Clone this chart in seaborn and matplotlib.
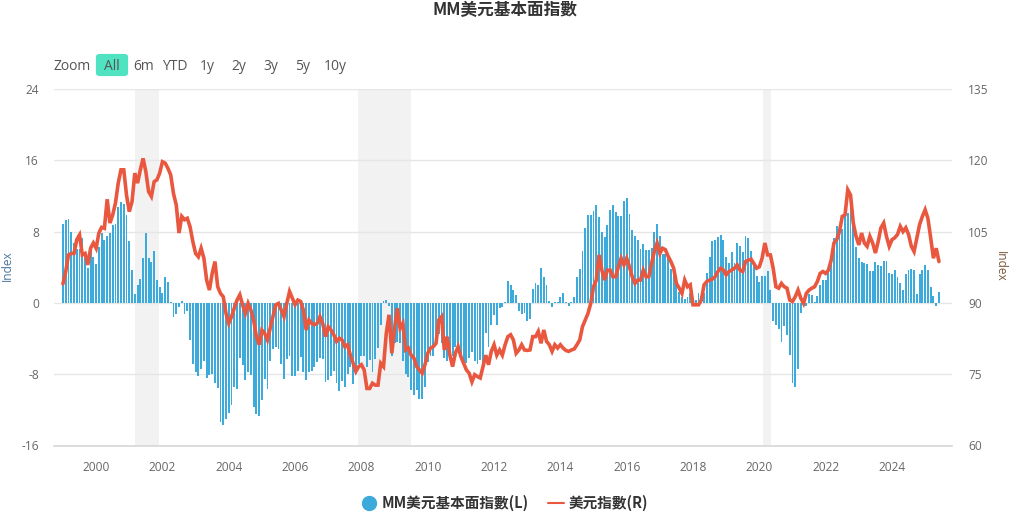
import matplotlib
matplotlib.use("Agg")
import matplotlib.pyplot as plt
from matplotlib.lines import Line2D
from matplotlib.patches import FancyBboxPatch
import numpy as np
import seaborn as sns

# Monthly readings from Jan 1999
mm_part1 = [8.9,9.3,9.4,8.0,6.7,6.1,6.0,7.3,5.0,3.9,6.3,5.2,4.4,6.3,7.8,7.1,7.5,7.8,8.7,8.8,10.8,11.3,11.1,9.9,6.9,3.7,1.0,2.0,2.7,5.0,7.8,5.0,4.6,5.8,2.6,1.8,1.1,2.9,2.3,0.05,-1.6,-1.2,-0.5,0.2,-1.2,-0.9,-4.2,-6.8,-7.8,-8.2,-7.4,-6.5,-8.4,-8.1,-8.0,-9.0,-9.6,-13.4,-13.7,-13.0,-12.4,-11.5,-9.4,-9.7,-6.2,-7.0,-8.7,-7.8,-8.1,-11.7,-12.5,-12.7,-10.9,-8.5,-9.7,-6.5,-5.2,-5.0,-5.2,-6.8,-8.5,-6.3]
mm_part2 = [-6.0,-8.2,-8.2,-7.6,-6.1,-7.8,-8.6,-7.7,-7.6,-7.2,-6.6,-6.2,-6.3,-8.9,-8.6,-8.2,-7.6,-9.0,-9.9,-8.8,-9.4,-8.0,-7.2,-9.1,-8.0,-6.8,-6.0,-6.0,-7.2,-6.4,-7.8,-6.3,-5.1,-2.5,0.2,0.3,-0.3,-6.0,-4.5,-4.4,-4.5,-6.5,-8.0,-8.3,-9.8,-10.3,-9.8,-10.8,-10.8,-9.4,-6.6,-6.0,-6.0,-4.7,-3.5,-4.5,-6.2,-6.5,-5.7,-6.0,-5.0,-5.5,-6.0,-6.5,-6.7,-6.2,-5.5,-6.5,-6.8,-6.4,-7.0,-3.4,-5.0,-2.5,-1.4,-2.5,-0.6,-0.5,0.05,2.5,2.0,1.5,0.9]
mm_part3 = [-0.9,-1.2,-1.1,-2.0,-1.8,1.6,2.2,2.0,3.9,2.9,2.0,0.2,-0.5,0.15,0.15,0.7,1.1,0.1,-0.4,0.05,0.7,2.9,3.8,5.8,8.4,9.9,9.9,10.3,11.0,9.6,8.0,7.4,8.7,10.4,11.0,10.2,9.8,9.8,11.4,11.8,10.0,8.2,7.5,7.1,6.0,6.6,5.9,5.9,6.2,8.0,8.8,7.5,5.5,5.5,5.0,3.8,3.8,2.5,1.2,0.7,0.4,0.7,1.1,0.3,0.3,1.1,0.8,1.1,3.4,5.1,7.0,7.1,7.4,7.6,7.1,5.1,4.5,5.7,4.5,6.7]
mm_part4 = [6.4,5.7,7.5,7.3,5.8,4.5,3.0,2.4,3.0,3.0,3.6,1.5,-2.0,-2.5,-2.9,-4.4,-2.6,-3.6,-5.8,-9.0,-9.4,-7.4,-1.1,0.3,-0.3,1.0,0.9,0.1,0.8,2.0,2.6,2.6,3.7,4.5,7.3,8.6,7.8,8.3,9.9,10.1,10.5,9.0,6.3,5.0,4.6,4.5,4.4,3.6,3.6,4.6,4.2,4.1,4.7,4.7,3.4,3.2,3.7,2.9,2.2,1.5,3.2,3.7,3.8,3.7,1.0,3.2,3.7,4.2,3.7,1.8,0.8,-0.3,1.2]
dxy_part1 = [94.0,96.6,100.1,100.4,100.4,103.3,104.3,100.1,100.4,98.0,101.5,102.6,101.5,104.7,105.9,105.7,111.8,106.8,108.5,111.0,115.2,118.0,118.0,112.7,109.2,111.3,117.3,115.2,118.0,120.4,117.6,113.4,112.4,115.5,115.9,117.3,119.7,119.4,118.3,116.9,113.0,110.6,104.7,108.2,107.5,107.8,106.0,102.9,100.4,99.7,101.5,99.4,94.8,92.7,96.2,98.7,93.4,92.0,91.3,87.8,85.7,87.1,88.9,90.6,91.7,89.6,87.8,89.9,88.5,86.4,82.9,81.2,84.3,83.6,82.2,84.7,87.1,89.6,89.9,88.5,87.1,89.9]
dxy_part2 = [92.4,91.0,89.6,90.6,90.3,88.5,84.3,86.4,85.7,85.4,85.7,87.1,85.7,82.9,85.0,84.3,83.3,81.9,82.6,82.2,80.8,81.2,79.0,77.3,75.6,76.6,77.0,75.9,72.0,72.0,73.1,72.7,72.7,77.3,76.6,83.6,87.5,79.4,84.7,88.9,84.7,85.7,80.1,80.5,79.0,78.4,76.6,75.9,75.2,77.0,79.4,80.5,80.8,81.5,86.4,87.1,80.1,82.9,79.0,76.6,79.4,80.8,78.7,77.3,75.9,75.2,73.4,74.9,74.5,74.2,76.6,79.0,77.0,79.8,81.2,79.0,80.1,79.0,81.2,82.9,83.3,82.2,79.4]
dxy_part3 = [80.1,81.2,80.1,80.0,80.1,82.9,82.9,84.0,81.5,84.3,81.9,81.2,79.8,81.2,80.5,81.2,80.5,80.0,79.8,80.1,80.3,81.2,82.2,85.0,86.4,87.8,89.9,93.4,94.8,100.1,96.9,94.8,96.9,96.9,95.5,95.5,97.6,99.4,98.0,99.4,97.6,95.5,94.1,94.8,94.8,96.9,95.5,95.5,98.3,100.8,102.6,100.4,101.5,101.2,99.8,98.7,97.3,94.1,93.1,92.0,94.8,93.4,93.8,89.6,89.6,89.6,90.6,93.8,94.5,94.8,95.0,95.5,96.6,97.3,96.9,95.9,96.6,96.9,97.3,98.0]
dxy_part4 = [96.9,96.6,98.7,99.0,99.2,98.3,97.3,97.6,99.4,102.6,100.1,100.1,97.3,93.4,93.1,94.1,93.4,93.1,90.6,90.3,91.3,92.7,91.0,89.9,92.0,92.7,93.1,93.4,94.5,96.2,96.6,96.2,96.9,99.0,102.6,103.3,105.0,108.2,108.5,113.8,112.7,106.8,104.0,102.2,104.7,102.6,101.9,104.0,102.6,100.5,102.9,105.8,106.8,104.0,101.9,103.3,103.7,104.4,106.1,105.0,105.8,104.4,101.9,100.8,103.7,106.5,108.2,109.6,107.8,103.7,99.4,101.5,98.7]
recessions = [(2001.16, 2001.91), (2007.91, 2009.50), (2020.11, 2020.35)]
year_ticks = list(range(2000, 2026, 2))
left_ticks = [-16, -8, 0, 8, 16, 24]
right_ticks = [60, 75, 90, 105, 120, 135]
range_labels = ["Zoom", "All", "6m", "YTD", "1y", "2y", "3y", "5y", "10y"]

mm = mm_part1 + mm_part2 + mm_part3 + mm_part4
dxy = dxy_part1 + dxy_part2 + dxy_part3 + dxy_part4
years = 1999.0 + np.arange(len(mm)) / 12
dxy_years = 1999.0 + np.arange(len(dxy)) / 12

W, H = 1011, 512
sns.set_theme(style="white")
plt.rcParams["font.family"] = ["Open Sans", "Noto Sans CJK TC", "DejaVu Sans"]
plt.rcParams["axes.unicode_minus"] = False
BLUE, RED, GRID, TXT = "#3caadb", "#e9573f", "#e6e6e6", "#666666"
CJK = ["Noto Sans CJK TC", "DejaVu Sans"]

fig = plt.figure(figsize=(W/100, H/100), dpi=100, facecolor="white")
ax = fig.add_axes([54/W, 1-445.5/H, (952-54)/W, (445.5-89)/H])
for a, b in recessions:
    ax.axvspan(a, b, color="#f2f2f2", lw=0, zorder=0)
sns.barplot(x=years, y=mm, native_scale=True, color=BLUE, saturation=1, width=0.68,
            errorbar=None, ax=ax, zorder=2, linewidth=0, edgecolor=BLUE)
ax.set_xlim(1998.73, 2025.81)
ax.set_ylim(-16, 24)
ax.set_yticks(left_ticks)
ax.set_xticks(year_ticks)
ax.set_xticklabels([str(y) for y in year_ticks])
ax.set_axisbelow(True)
ax.grid(axis="y", color=GRID, lw=1, zorder=1)
ax.grid(axis="x", visible=False)
for s in ["top", "left", "right"]:
    ax.spines[s].set_visible(False)
ax.spines["bottom"].set_color("#d8d8d8")
ax.tick_params(axis="x", length=6.5, width=1, color="#d8d8d8", labelcolor=TXT, labelsize=8.6, pad=4.5)
ax.tick_params(axis="y", length=0, labelcolor=TXT, labelsize=8.6, pad=10.8)
ax.set_xlabel("")
ax.set_ylabel("")

ax2 = ax.twinx()
sns.lineplot(x=dxy_years, y=dxy, color=RED, lw=2.6, ax=ax2, errorbar=None,
             solid_joinstyle="miter")
ax2.set_ylim(60, 135)
ax2.set_yticks(right_ticks)
ax2.tick_params(axis="y", length=0, labelcolor=TXT, labelsize=8.6, pad=11.5)
ax2.set_xlabel("")
ax2.set_ylabel("")
for s in ax2.spines.values():
    s.set_visible(False)

fig.text(504.5/W, 1-10/H, "MM美元基本面指數", family=CJK, fontweight="bold", fontsize=12,
         color="#333333", ha="center", va="center")
fig.text(7/W, 1-266/H, "Index", rotation=90, ha="center", va="center", fontsize=8.6, color="#4d759e")
fig.text(1000/W, 1-266/H, "Index", rotation=270, ha="center", va="center", fontsize=8.6, color="#7a5a3c")

fig.patches.append(FancyBboxPatch((98/W, 1-74/H), 28/W, 18/H, transform=fig.transFigure,
                                  boxstyle="round,pad=0,rounding_size=0.002", fc="#50e3c2",
                                  ec="#50e3c2", lw=3))
range_x = [72, 112, 144, 175, 207, 239, 271, 303, 335]
for lab, x in zip(range_labels, range_x):
    fig.text(x/W, 1-66.5/H, lab, ha="center", va="center", fontsize=10, color="#555555")

handles = [Line2D([], [], ls="", marker="o", ms=10, color=BLUE, label="MM美元基本面指數(L)"),
           Line2D([], [], color=RED, lw=1.5, label="美元指數(R)")]
fig.legend(handles=handles, loc="center", bbox_to_anchor=(504.5/W, 1-503/H), ncol=2, frameon=False,
           prop={"family": CJK, "weight": "bold", "size": 10.5}, labelcolor="#333333",
           handlelength=1.1, handletextpad=0.35, columnspacing=1.3, borderpad=0)
fig.savefig("out.png", dpi=100, facecolor="white")
